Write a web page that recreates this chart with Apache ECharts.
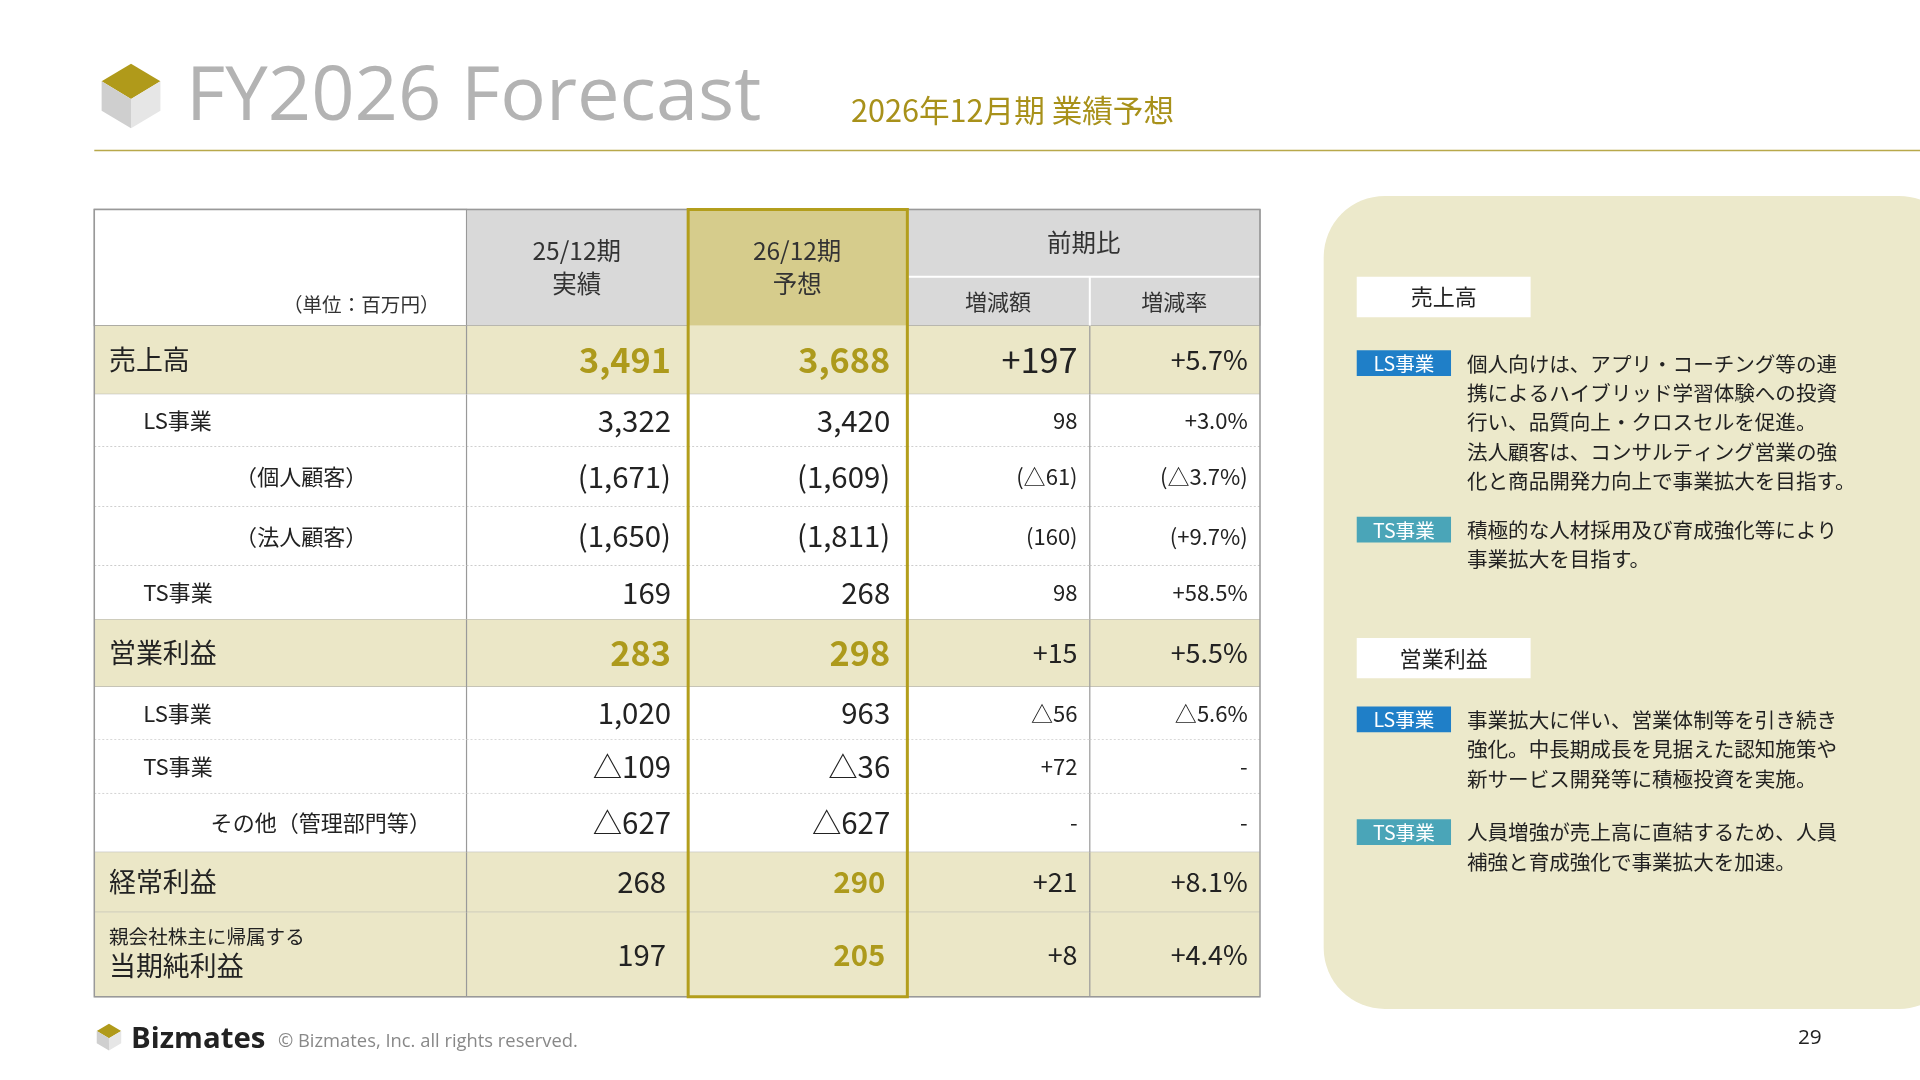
<!DOCTYPE html>
<html><head><meta charset="utf-8">
<script src="https://cdn.jsdelivr.net/npm/echarts@6/dist/echarts.min.js"></script>
<style>html,body{margin:0;padding:0;background:#fff}#c{width:1920px;height:1080px}</style>
</head><body><div id="c"></div>
<script>
const rowLabels=['売上高','LS事業','（個人顧客）','（法人顧客）','TS事業','営業利益','LS事業','TS事業','その他（管理部門等）','経常利益','当期純利益'];
const prevValues=['3,491','3,322','(1,671)','(1,650)','169','283','1,020','△109','△627','268','197'];
const fcstValues=['3,688','3,420','(1,609)','(1,811)','268','298','963','△36','△627','290','205'];
const diffValues=['+197','98','(△61)','(160)','98','+15','△56','+72','-','+21','+8'];
const rateValues=['+5.7%','+3.0%','(△3.7%)','(+9.7%)','+58.5%','+5.5%','△5.6%','-','-','+8.1%','+4.4%'];
const headers=['25/12期\n実績','26/12期\n予想','前期比','増減額','増減率'];

const S=1920/1568;
const F='"Noto Sans CJK JP","Noto Sans",sans-serif';
const GOLD='#ad9a1c', HL='#ebe7c7', GRAYH='#d9d9d9', GOLDH='#d6cc8c';
const hlRows=[0,5,9,10];
const goldCells={0:[1,2],5:[1,2],9:[2],10:[2]};
const colB=[0,304,485,664,813,952];
const rowB=[95,151,194,243,291,335,390,433,477,525,574,643];
const data=[];
for(let r=0;r<rowLabels.length;r++)for(let c=0;c<5;c++)data.push([r,c]);
function s(v){return v*S;}

const chart=echarts.init(document.getElementById('c'));
function renderItem(params,api){
  const r=api.value(0),c=api.value(1);
  const p0=api.coord([colB[c],rowB[r]]),p1=api.coord([colB[c+1],rowB[r+1]]);
  const w=p1[0]-p0[0],h=p1[1]-p0[1];
  const hl=hlRows.includes(r);
  const ch=[];
  ch.push({type:'rect',shape:{x:p0[0],y:p0[1],width:w,height:h},style:{fill:hl?HL:'#fff'}});
  const nextHl=hlRows.includes(r+1);
  ch.push({type:'line',shape:{x1:p0[0],y1:p1[1],x2:p1[0],y2:p1[1]},style:{stroke:'#aaa',lineWidth:1,lineDash:(hl||nextHl)?null:[2,2]}});
  if(c>0)ch.push({type:'line',shape:{x1:p0[0],y1:p0[1],x2:p0[0],y2:p1[1]},style:{stroke:'#999',lineWidth:1.2}});
  let text,fs,color='#222',align='right',x=p1[0]-s(10);
  if(c===0){
    text=rowLabels[r];align='left';
    x=p0[0]+s([12,40,115,115,40,12,40,40,95,12,12][r]);
    fs=hl?s(22):s(18);
    if(r===10){
      ch.push({type:'text',style:{x:x,y:p0[1]+s(20),text:'親会社株主に帰属する',font:`${s(16)}px ${F}`,fill:'#222',verticalAlign:'middle'}});
      ch.push({type:'text',style:{x:x,y:p0[1]+s(44),text:text,font:`${s(22)}px ${F}`,fill:'#222',verticalAlign:'middle'}});
      return {type:'group',children:ch};
    }
  } else {
    text=[prevValues,fcstValues,diffValues,rateValues][c-1][r];
    if(c<=2){ fs=(r===0||r===5)?s(28):s(24); x=p1[0]-s(14); }
    else fs=(r===0&&c===3)?s(28):(hl?s(22):s(18));
    if(goldCells[r]&&goldCells[r].includes(c)){color=GOLD;}
    if(c===1&&(r===9||r===10))x=p1[0]-s(18);
    if(c===2&&(r===9||r===10))x=p1[0]-s(18);
  }
  const bold=(goldCells[r]&&goldCells[r].includes(c))?'bold ':'';
  ch.push({type:'text',style:{x:x,y:(p0[1]+p1[1])/2,text:text,align:align,verticalAlign:'middle',font:`${bold}${fs}px ${F}`,fill:color}});
  return {type:'group',children:ch};
}

const g=[];
function cube(x,y,k){
  return [
    {type:'polygon',shape:{points:[[x,y+k*0.3],[x+k*0.5,y],[x+k,y+k*0.3],[x+k*0.5,y+k*0.6]]},style:{fill:'#b09a1a'}},
    {type:'polygon',shape:{points:[[x,y+k*0.3],[x+k*0.5,y+k*0.6],[x+k*0.5,y+k*1.1],[x,y+k*0.8]]},style:{fill:'#cfcfcf'}},
    {type:'polygon',shape:{points:[[x+k*0.5,y+k*0.6],[x+k,y+k*0.3],[x+k,y+k*0.8],[x+k*0.5,y+k*1.1]]},style:{fill:'#e6e6e6'}}
  ];
}
g.push(...cube(s(83),s(52),s(48)));
g.push({type:'text',style:{x:s(152),y:s(80),text:'FY2026 Forecast',font:`${s(62)}px "Open Sans",${F}`,fill:'#b3b3b3',verticalAlign:'middle'}});
g.push({type:'text',style:{x:s(695),y:s(90),text:'2026年12月期 業績予想',font:`${s(25)}px ${F}`,fill:'#a8911a',verticalAlign:'middle'}});
g.push({type:'line',shape:{x1:s(77),y1:s(123),x2:1920,y2:s(123)},style:{stroke:'#b8a84a',lineWidth:1.5}});
const T=171,L=77;
g.push({type:'rect',shape:{x:s(L),y:s(T),width:s(304),height:s(95)},style:{fill:'#fff',stroke:'#999',lineWidth:1.2}});
g.push({type:'text',style:{x:s(L+282),y:s(T+78),text:'（単位：百万円）',align:'right',verticalAlign:'middle',font:`${s(16)}px ${F}`,fill:'#333'}});
g.push({type:'rect',shape:{x:s(L+304),y:s(T),width:s(181),height:s(95)},style:{fill:GRAYH,stroke:'#999',lineWidth:1}});
g.push({type:'rect',shape:{x:s(L+485),y:s(T),width:s(179),height:s(95)},style:{fill:GOLDH}});
g.push({type:'rect',shape:{x:s(L+664),y:s(T),width:s(288),height:s(95)},style:{fill:GRAYH,stroke:'#999',lineWidth:1}});
g.push({type:'line',shape:{x1:s(L+664),y1:s(T+55),x2:s(L+952),y2:s(T+55)},style:{stroke:'#fff',lineWidth:2}});
g.push({type:'line',shape:{x1:s(L+813),y1:s(T+55),x2:s(L+813),y2:s(T+95)},style:{stroke:'#fff',lineWidth:2}});
const hdrPos=[[L+394,T+47],[L+574,T+47],[L+808,T+27],[L+738,T+75],[L+882,T+75]];
headers.forEach((h,i)=>g.push({type:'text',style:{x:s(hdrPos[i][0]),y:s(hdrPos[i][1]),text:h,align:'center',verticalAlign:'middle',lineHeight:s(27),font:`${s(i<3?20:18)}px ${F}`,fill:'#333'}}));
g.push({type:'rect',shape:{x:s(1081),y:s(160),width:s(520),height:s(664),r:s(50)},style:{fill:'#ece9cb'}});
function tagbox(x,y,t){g.push({type:'rect',shape:{x:s(x),y:s(y),width:s(142),height:s(33)},style:{fill:'#fff'}});
 g.push({type:'text',style:{x:s(x+71),y:s(y+16.5),text:t,align:'center',verticalAlign:'middle',font:`${s(18)}px ${F}`,fill:'#222'}});}
function tag(x,y,t,col){g.push({type:'rect',shape:{x:s(x),y:s(y),width:s(77),height:s(21)},style:{fill:col}});
 g.push({type:'text',style:{x:s(x+38.5),y:s(y+11),text:t,align:'center',verticalAlign:'middle',font:`${s(16)}px ${F}`,fill:'#fff'}});}
function para(x,y,t){g.push({type:'text',style:{x:s(x),y:s(y),text:t,verticalAlign:'top',lineHeight:s(24),font:`${s(16.8)}px ${F}`,fill:'#222'}});}
tagbox(1108,226,'売上高');
tag(1108,286,'LS事業','#1f7fc8');
para(1198,285,'個人向けは、アプリ・コーチング等の連\n携によるハイブリッド学習体験への投資\n行い、品質向上・クロスセルを促進。\n法人顧客は、コンサルティング営業の強\n化と商品開発力向上で事業拡大を目指す。');
tag(1108,422,'TS事業','#4aa5b8');
para(1198,421,'積極的な人材採用及び育成強化等により\n事業拡大を目指す。');
tagbox(1108,521,'営業利益');
tag(1108,577,'LS事業','#1f7fc8');
para(1198,576,'事業拡大に伴い、営業体制等を引き続き\n強化。中長期成長を見据えた認知施策や\n新サービス開発等に積極投資を実施。');
tag(1108,669,'TS事業','#4aa5b8');
para(1198,668,'人員増強が売上高に直結するため、人員\n補強と育成強化で事業拡大を加速。');
g.push(...cube(s(79),s(836),s(20)));
g.push({type:'text',style:{x:s(107),y:s(849),text:'Bizmates',verticalAlign:'middle',font:`bold ${s(24)}px "Open Sans",${F}`,fill:'#222'}});
g.push({type:'text',style:{x:s(227),y:s(851),text:'© Bizmates, Inc. all rights reserved.',verticalAlign:'middle',font:`${s(15)}px "Open Sans",${F}`,fill:'#888'}});
g.push({type:'text',style:{x:s(1478),y:s(848),text:'29',align:'center',verticalAlign:'middle',font:`${s(17)}px "Open Sans",${F}`,fill:'#222'}});

const over=[
 {type:'rect',z:100,shape:{x:s(L),y:s(T),width:s(952),height:s(643)},style:{fill:null,stroke:'#999',lineWidth:1.5}},
 {type:'rect',z:101,shape:{x:s(L+485),y:s(T),width:s(179),height:s(643)},style:{fill:null,stroke:'#b39e1c',lineWidth:3}}
];

chart.setOption({
  animation:false,
  grid:{left:s(L),top:s(T),width:s(952),height:s(643)},
  xAxis:{type:'value',min:0,max:952,show:false},
  yAxis:{type:'value',min:0,max:643,inverse:true,show:false},
  graphic:[...g,...over],
  series:[{type:'custom',renderItem:renderItem,data:data,z:5,silent:true}]
});
</script></body></html>
